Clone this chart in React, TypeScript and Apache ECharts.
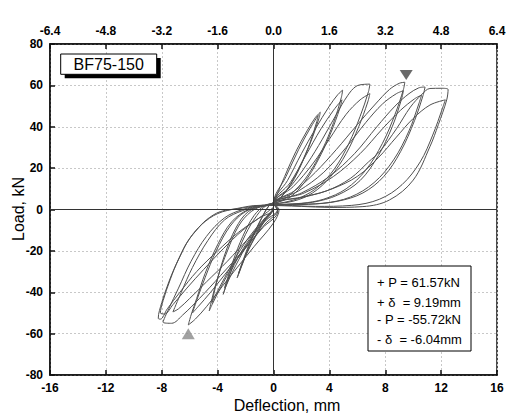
import React, { useEffect, useRef } from "react";
import * as echarts from "echarts";

// Axis ticks
const bottomTicks = { min: -16, max: 16, interval: 4 };
const topTicks = { min: -6.4, max: 6.4, interval: 1.6 };
const loadTicks = { min: -80, max: 80, interval: 20 };

// Hysteresis cycles [deflection mm, load kN]
const cycle1a = [[0,3],[0.8,16],[1.6,28],[2.4,38],[3.0,44.5],[3.35,47],[3.25,44],[2.8,35],[2.2,25],[1.5,15],[0.8,8],[0.2,4],[-0.3,2],[-0.9,-5],[-1.6,-15],[-2.2,-26],[-2.6,-33],[-2.45,-30],[-1.9,-21],[-1.2,-12],[-0.5,-4],[0,1]];
const cycle1b = [[0,3],[0.9,16],[1.8,29],[2.6,39],[3.2,45.5],[3.1,42.5],[2.6,32],[1.9,21],[1.1,11],[0.4,5],[-0.3,2],[-1.0,-6],[-1.7,-16],[-2.2,-25],[-2.5,-31],[-2.3,-27],[-1.7,-18],[-1.0,-9],[-0.3,-2],[0,1]];
const cycle2a = [[0,3],[1,14],[2,27],[3,39],[4,50],[4.6,55.5],[4.95,57.7],[4.85,54],[4.3,42],[3.5,29],[2.5,17],[1.5,9],[0.5,4],[-0.5,2],[-1.2,-3],[-2,-12],[-2.8,-25],[-3.3,-35],[-3.6,-41],[-3.4,-37],[-2.7,-27],[-1.8,-16],[-0.9,-7],[0,1]];
const cycle2b = [[0,3],[1.2,13],[2.3,26],[3.4,39],[4.3,48],[4.9,53],[4.75,49],[4.1,37],[3.2,24],[2.2,13],[1.2,6],[0.3,3.5],[-0.6,2],[-1.4,-3],[-2.2,-13],[-2.9,-25],[-3.5,-38],[-3.3,-34],[-2.6,-24],[-1.7,-14],[-0.8,-6],[0,1.5]];
const cycle3a = [[0,3],[1.2,11],[2.4,22],[3.5,34],[4.5,46],[5.3,55],[5.9,59.5],[6.5,60.5],[6.9,60.6],[6.8,57],[6.2,45],[5.4,32],[4.4,20],[3.2,11],[2,6],[0.8,3.5],[-0.6,2],[-1.6,-1],[-2.5,-8],[-3.3,-20],[-4,-33],[-4.4,-43],[-4.6,-49],[-4.4,-46],[-3.8,-38],[-2.9,-27],[-1.8,-16],[-0.8,-7],[0,1]];
const cycle3b = [[0,3],[1.4,11],[2.8,22],[4,34],[5.2,46],[6.2,53],[6.9,56],[6.75,52],[6.1,40],[5.2,27],[4.1,16],[2.8,8],[1.4,4],[-0.6,2],[-1.8,-1],[-2.7,-9],[-3.5,-22],[-4.1,-36],[-4.4,-45],[-4.2,-42],[-3.5,-33],[-2.6,-22],[-1.6,-12],[-0.6,-4],[0,1]];
const cycle4a = [[0,3],[1.5,9],[3,18],[4.5,29],[6,41],[7.3,51],[8.3,58],[9,61],[9.4,61.5],[9.3,58],[8.7,46],[7.8,32],[6.6,19],[5.2,10],[3.6,5],[2,3],[-0.5,2],[-1.8,0],[-3,-6],[-4,-17],[-4.9,-31],[-5.5,-43],[-5.9,-51],[-6.1,-55.8],[-5.6,-53],[-4.8,-47],[-3.3,-34],[-1.4,-18],[0,-6.5],[0.4,0]];
const cycle4b = [[0,3],[1.8,9],[3.6,18],[5.2,30],[6.6,42],[7.8,51],[8.8,56],[9.3,57.4],[9.15,53],[8.5,40],[7.5,26],[6.2,14],[4.6,7],[2.8,3.5],[1,2.5],[-0.8,1.5],[-2,-1],[-3.1,-8],[-4.1,-20],[-4.9,-33],[-5.5,-44],[-5.8,-50],[-5.4,-47],[-4.5,-40],[-3.2,-29],[-1.8,-17],[-0.6,-7],[0.3,0]];
const cycle5a = [[0,3],[2,8],[4,16],[5.8,27],[7.4,40],[8.7,50],[9.7,56],[10.4,58.8],[10.85,59.2],[10.7,55],[10.1,43],[9.1,28],[7.9,16],[6.4,8],[4.6,4],[2.5,2.5],[-0.8,2],[-2.2,0],[-3.5,-4],[-4.8,-13],[-5.9,-25],[-6.8,-38],[-7.5,-48],[-7.9,-54.5],[-7.3,-55],[-6.5,-51],[-5.3,-43],[-3.8,-32],[-2.2,-20],[-0.8,-9],[0.3,-1]];
const cycle5b = [[0,3],[2.2,8],[4.3,16],[6.2,27],[7.8,39],[9.1,48],[10.1,53.5],[10.6,55.3],[10.4,51],[9.7,38],[8.6,24],[7.2,13],[5.5,6],[3.5,3],[1.5,2.5],[-0.8,2],[-2.2,-0.5],[-3.5,-5],[-4.7,-15],[-5.8,-28],[-6.6,-40],[-7.2,-49.5],[-6.8,-48],[-6,-43],[-4.8,-35],[-3.3,-25],[-1.8,-14],[-0.5,-5],[0.3,0]];
const cycle6a = [[0,3],[2,6],[3.8,9],[5.5,15],[6.8,23],[7.6,28],[8.8,39],[9.8,49.5],[10.6,55.5],[11.2,58.5],[12,58.6],[12.5,58],[12.4,53],[11.8,41],[11.2,30.4],[10,14.2],[8.3,4.6],[6.4,1.4],[4,1],[2,1.5],[-0.8,2],[-2.4,0.5],[-3.8,-1],[-4.8,-5],[-5.5,-9.9],[-6.2,-16],[-6.7,-22.8],[-7.2,-30],[-7.6,-37],[-8,-45],[-8.25,-52.6],[-8.1,-53],[-7.6,-48],[-6.7,-40],[-5.5,-30],[-4,-20],[-2.5,-11],[-1,-4],[0,0]];
const cycle6b = [[0,3],[2.2,6],[4.2,10],[6,16],[7.5,25],[8.8,35],[10,44],[11.2,50.5],[12.3,53],[12.1,49],[11.4,36],[10.5,23],[9.2,12],[7.6,5],[5.6,2],[3,1.5],[0.8,2],[-1,2],[-2.6,0.5],[-4,-2],[-5.1,-7],[-6,-14],[-6.8,-24],[-7.4,-34],[-7.9,-44],[-8.1,-50],[-7.8,-50.5],[-7.2,-46],[-6.2,-38],[-5,-29],[-3.6,-19],[-2.2,-10],[-0.8,-3],[0,1]];

const cycles = [cycle1a, cycle1b, cycle2a, cycle2b, cycle3a, cycle3b, cycle4a, cycle4b, cycle5a, cycle5b, cycle6a, cycle6b];

// Peak markers
const peakPositive = [[9.5, 65]];
const peakNegative = [[-6.1, -60]];

// Texts
const specimenLabel = "BF75-150";
const summaryLines = ["+ P = 61.57kN", "+ δ  = 9.19mm", "- P = -55.72kN", "- δ  = -6.04mm"];
const xName = "Deflection, mm";
const yName = "Load, kN";

const FONT = "'Liberation Sans', Arial, sans-serif";

export default function App() {
  const ref = useRef<HTMLDivElement>(null);
  useEffect(() => {
    if (!ref.current) return;
    const chart = echarts.init(ref.current, null, { renderer: "svg" });
    const path: number[][] = [];
    cycles.forEach((c) => c.forEach((p) => path.push(p)));

    const axisLabel = { color: "#000", fontWeight: "bold", fontSize: 12, fontFamily: FONT, margin: 7 };
    const axisLine = { show: true, onZero: false, lineStyle: { color: "#111", width: 1.5 } };
    const axisTick = { show: true, inside: true, length: 5, lineStyle: { color: "#111", width: 1.5 } };
    const splitLine = { show: true, lineStyle: { color: "#c8c8c8", type: [2, 2], width: 1 } };

    const lineHeights = [282, 302, 319, 339];

    chart.setOption({
      animation: false,
      backgroundColor: "#fff",
      grid: { left: 50, right: 14, top: 44, bottom: 42, show: true, borderColor: "#111", borderWidth: 1.5, backgroundColor: "transparent" },
      xAxis: [
        { type: "value", position: "bottom", ...bottomTicks, axisLine, axisTick, axisLabel, splitLine },
        {
          type: "value", position: "top", ...topTicks, axisLine, axisTick,
          axisLabel: { ...axisLabel, formatter: (v: number) => v.toFixed(1) },
          splitLine: { show: false },
        },
      ],
      yAxis: [
        { type: "value", ...loadTicks, axisLine, axisTick, axisLabel, splitLine },
      ],
      series: [
        {
          type: "line",
          xAxisIndex: 0,
          yAxisIndex: 0,
          data: path,
          showSymbol: false,
          smooth: 0.35,
          lineStyle: { color: "#505050", width: 1 },
          z: 3,
          markLine: {
            silent: true,
            symbol: "none",
            label: { show: false },
            lineStyle: { color: "#333", width: 1, type: "solid" },
            data: [{ xAxis: 0 }, { yAxis: 0 }],
          },
        },
        {
          type: "scatter",
          data: peakPositive,
          symbol: "triangle",
          symbolRotate: 180,
          symbolSize: [13, 10],
          itemStyle: { color: "#444" },
          z: 4,
        },
        {
          type: "scatter",
          data: peakNegative,
          symbol: "triangle",
          symbolSize: [13, 11],
          itemStyle: { color: "#8a8a8a" },
          z: 4,
        },
      ],
      graphic: [
        { type: "rect", shape: { x: 64.7, y: 58, width: 96, height: 20.3 }, style: { fill: "#000" }, z: 10 },
        { type: "rect", shape: { x: 60.7, y: 54, width: 96, height: 20.3 }, style: { fill: "#fff", stroke: "#000", lineWidth: 1 }, z: 11 },
        {
          type: "text", x: 108.7, y: 64.5, z: 12,
          style: { text: specimenLabel, fontSize: 16, fontFamily: FONT, fill: "#000", textAlign: "center", textVerticalAlign: "middle" },
        },
        { type: "rect", shape: { x: 368, y: 266, width: 103, height: 85 }, style: { fill: "#fff", stroke: "#000", lineWidth: 1 }, z: 10 },
        ...summaryLines.map((t, i) => ({
          type: "text", x: 377, y: lineHeights[i], z: 11,
          style: { text: t, fontSize: 13, fontFamily: FONT, fill: "#000", textAlign: "left", textVerticalAlign: "middle" },
        })),
        {
          type: "text", x: 287, y: 405,
          style: { text: xName, fontSize: 16, fontFamily: FONT, fill: "#000", textAlign: "center", textVerticalAlign: "middle" },
        },
        {
          type: "text", x: 18, y: 209, rotation: Math.PI / 2,
          style: { text: yName, fontSize: 16, fontFamily: FONT, fill: "#000", textAlign: "center", textVerticalAlign: "middle" },
        },
      ],
    });
    return () => chart.dispose();
  }, []);
  return <div ref={ref} style={{ position: "fixed", left: 0, top: 0, width: 511, height: 417 }} />;
}
